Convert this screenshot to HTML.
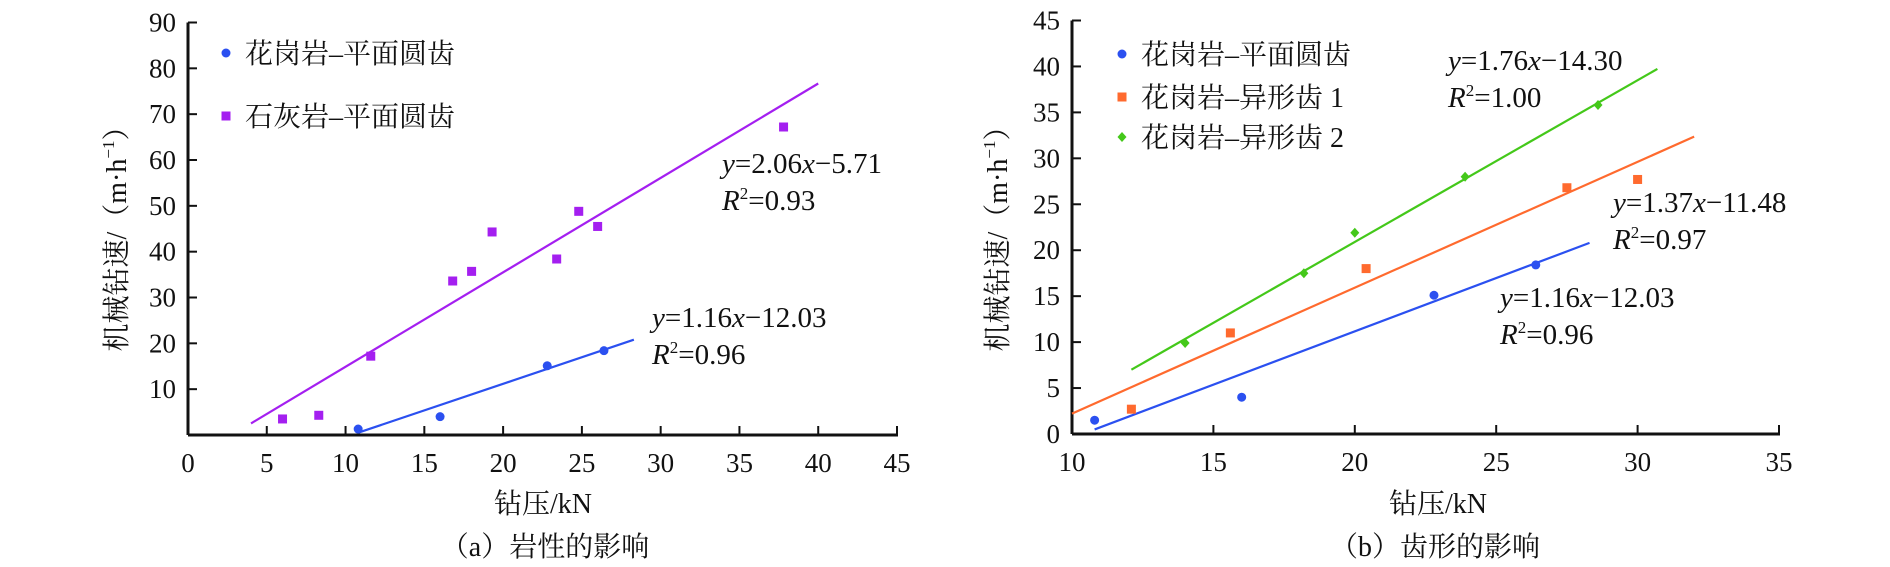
<!DOCTYPE html>
<html><head><meta charset="utf-8"><style>
html,body{margin:0;padding:0;background:#fff;width:1890px;height:567px;overflow:hidden}
svg{display:block}
text{font-family:"Liberation Serif","Noto Serif CJK SC","Noto Sans CJK SC",serif;fill:#111}
</style></head><body>
<svg id="fig" width="1890" height="567" viewBox="0 0 1890 567" xmlns="http://www.w3.org/2000/svg"></svg>
<script>
// ---- Chart (a) data ----
const aXTicks = [0,5,10,15,20,25,30,35,40,45];
const aYTicks = [10,20,30,40,50,60,70,80,90];
const aGraniteX = [10.8,16,22.8,26.4];
const aGraniteY = [1.3,4,15.1,18.4];
const aLimeX = [6,8.3,11.6,16.8,18,19.3,23.4,24.8,26,37.8];
const aLimeY = [3.5,4.3,17.2,33.6,35.7,44.3,38.4,48.8,45.5,67.2];
const aGraniteFit = [1.16,-12.03,10.8,28.3];
const aLimeFit = [2.06,-5.71,4,40];
// ---- Chart (b) data ----
const bXTicks = [10,15,20,25,30,35];
const bYTicks = [0,5,10,15,20,25,30,35,40,45];
const bFlatX = [10.8,16,22.8,26.4];
const bFlatY = [1.5,4,15.1,18.4];
const bS1X = [12.1,15.6,20.4,27.5,30];
const bS1Y = [2.7,11,18,26.8,27.7];
const bS2X = [14,18.2,20,23.9,28.6];
const bS2Y = [9.9,17.5,21.9,28,35.8];
const bFlatFit = [1.16,-12.03,10.8,28.3];
const bS1Fit = [1.37,-11.48,10,32];
const bS2Fit = [1.76,-14.30,12.1,30.7];

const NS="http://www.w3.org/2000/svg";
const svg=document.getElementById('fig');
function mk(tag,attrs,parent,txt){const e=document.createElementNS(NS,tag);for(const k in attrs)e.setAttribute(k,attrs[k]);if(txt!==undefined)e.textContent=txt;(parent||svg).appendChild(e);return e;}

const BLUE='#2b50f0',PURPLE='#a41ff0',ORANGE='#ff6a2e',GREEN='#44c81a';

function axesFn(x0,x1,px0,px1,y0,y1,py0,py1){
  return {x:v=>px0+(v-x0)/(x1-x0)*(px1-px0), y:v=>py0+(v-y0)/(y1-y0)*(py1-py0)};
}

function drawAxes(g,ax,xt,yt,xmin,ymin,ymax,xmax){
  const X0=ax.x(xmin),Y0=ax.y(ymin);
  const axisY=mk('line',{x1:X0,y1:ax.y(ymax),x2:X0,y2:Y0,stroke:'#111','stroke-width':3},g);
  
  const axisX=mk('line',{x1:X0,y1:Y0,x2:ax.x(xmax)+1,y2:Y0,stroke:'#111','stroke-width':3},g);
  
  xt.forEach(v=>{
    const xx=ax.x(v);
    if(v!==xmin){const t=mk('line',{x1:xx,y1:Y0,x2:xx,y2:Y0-9,stroke:'#111','stroke-width':2},g);
    }
    const l=mk('text',{x:xx,y:Y0+37,'text-anchor':'middle','font-size':27},g,String(v));
    
  });
  yt.forEach(v=>{
    const yy=ax.y(v);
    if(v!==ymin){const t=mk('line',{x1:X0,y1:yy,x2:X0+9,y2:yy,stroke:'#111','stroke-width':2},g);
    }
    const l=mk('text',{x:X0-12,y:yy+9,'text-anchor':'end','font-size':27},g,String(v));
    
  });
}
function marker(g,shape,color,cx,cy){
  let e;
  if(shape==='circle')e=mk('circle',{cx:cx,cy:cy,r:4.5,fill:color},g);
  else if(shape==='square')e=mk('rect',{x:cx-4.5,y:cy-4.5,width:9,height:9,fill:color},g);
  else e=mk('polygon',{points:`${cx},${cy-5} ${cx+4.5},${cy} ${cx},${cy+5} ${cx-4.5},${cy}`,fill:color},g);
  return e;
}
function drawSeries(g,ax,xs,ys,shape,color,name){
  xs.forEach((v,i)=>{const m=marker(g,shape,color,ax.x(v),ax.y(ys[i]));
    });
}
function drawFit(g,ax,fit,color,name){
  const [k,b,xa,xb]=fit;
  const l=mk('line',{x1:ax.x(xa),y1:ax.y(k*xa+b),x2:ax.x(xb),y2:ax.y(k*xb+b),stroke:color,'stroke-width':2.2},g);
  
}
function eq(g,x,y,k,b,r2,name){
  const t=mk('text',{x:x,y:y,'font-size':29},g);
  
  mk('tspan',{'font-style':'italic'},t,'y');
  mk('tspan',{},t,'='+k.toFixed(2));
  mk('tspan',{'font-style':'italic'},t,'x');
  mk('tspan',{},t,'\u2212'+Math.abs(b).toFixed(2));
  const r=mk('text',{x:x,y:y+37,'font-size':29},g);
  
  mk('tspan',{'font-style':'italic'},r,'R');
  mk('tspan',{'font-size':17,dy:-11},r,'2');
  mk('tspan',{dy:11},r,'='+r2);
}
function legendEntry(g,x,y,shape,color,label){
  const grp=mk('g',{},g);
  
  marker(grp,shape,color,x,y);
  mk('text',{x:x+19,y:y+10,'font-size':28,'font-family':'"Liberation Serif","Noto Serif CJK SC",serif'},grp,label);
}
function yTitle(g,cx,cy){
  const t=mk('text',{x:0,y:0,transform:`translate(${cx},${cy}) rotate(-90)`,'text-anchor':'middle','font-size':28},g);
  
  mk('tspan',{},t,'机械钻速/（m·h');
  mk('tspan',{'font-size':17,dy:-12},t,'−1');
  mk('tspan',{dy:12},t,'）');
}

// ---- Chart (a) ----
const ga=mk('g',{});
const axA=axesFn(0,45,188,897,0,90,435,22.5);
drawAxes(ga,axA,aXTicks,aYTicks,0,0,90,45);
drawFit(ga,axA,aLimeFit,PURPLE,'limestone');
drawFit(ga,axA,aGraniteFit,BLUE,'granite');
drawSeries(ga,axA,aLimeX,aLimeY,'square',PURPLE,'limestone');
drawSeries(ga,axA,aGraniteX,aGraniteY,'circle',BLUE,'granite');
eq(ga,722,173,aLimeFit[0],aLimeFit[1],'0.93','limestone');
eq(ga,652,327,aGraniteFit[0],aGraniteFit[1],'0.96','granite');
legendEntry(ga,226,53,'circle',BLUE,'花岗岩–平面圆齿');
legendEntry(ga,226,116,'square',PURPLE,'石灰岩–平面圆齿');
yTitle(ga,126,232);
let t=mk('text',{x:543,y:513,'text-anchor':'middle','font-size':28},ga,'钻压/kN');

t=mk('text',{x:545,y:556,'text-anchor':'middle','font-size':28},ga,'（a）岩性的影响');


// ---- Chart (b) ----
const gb=mk('g',{});
const axB=axesFn(10,35,1072,1779,0,45,434,20.5);
drawAxes(gb,axB,bXTicks,bYTicks,10,0,45,35);
drawFit(gb,axB,bS2Fit,GREEN,'shaped-2');
drawFit(gb,axB,bS1Fit,ORANGE,'shaped-1');
drawFit(gb,axB,bFlatFit,BLUE,'flat');
drawSeries(gb,axB,bS2X,bS2Y,'diamond',GREEN,'shaped-2');
drawSeries(gb,axB,bS1X,bS1Y,'square',ORANGE,'shaped-1');
drawSeries(gb,axB,bFlatX,bFlatY,'circle',BLUE,'flat');
eq(gb,1448,70,bS2Fit[0],bS2Fit[1],'1.00','shaped-2');
eq(gb,1613,212,bS1Fit[0],bS1Fit[1],'0.97','shaped-1');
eq(gb,1500,307,bFlatFit[0],bFlatFit[1],'0.96','flat');
legendEntry(gb,1122,54,'circle',BLUE,'花岗岩–平面圆齿');
legendEntry(gb,1122,97,'square',ORANGE,'花岗岩–异形齿 1');
legendEntry(gb,1122,137,'diamond',GREEN,'花岗岩–异形齿 2');
yTitle(gb,1007,232);
t=mk('text',{x:1438,y:513,'text-anchor':'middle','font-size':28},gb,'钻压/kN');

t=mk('text',{x:1435,y:556,'text-anchor':'middle','font-size':28},gb,'（b）齿形的影响');

</script>
</body></html>
